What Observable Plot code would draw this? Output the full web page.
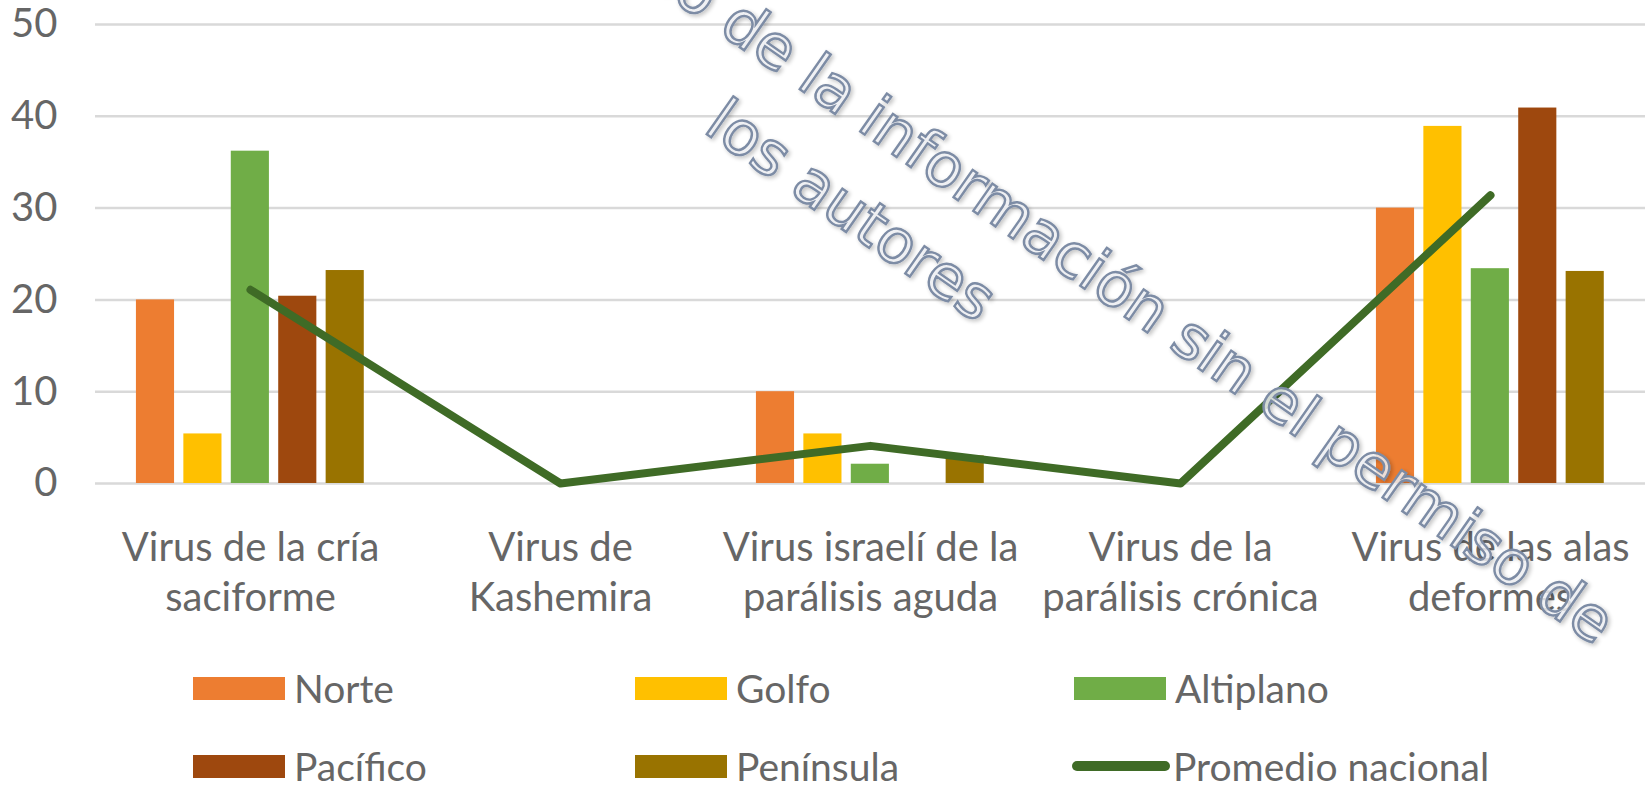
<!DOCTYPE html>
<html>
<head>
<meta charset="utf-8">
<script src="https://cdn.jsdelivr.net/npm/d3@7"></script>
<script src="https://cdn.jsdelivr.net/npm/@observablehq/plot@0.6"></script>
<style>
  html, body { margin: 0; padding: 0; background: #ffffff; }
  #wrap { position: relative; width: 1651px; height: 785px; overflow: hidden; font-family: Lato, "Liberation Sans Narrow", Roboto, sans-serif; }
  #legend { position: absolute; left: 0; top: 0; width: 1651px; height: 785px; pointer-events: none; }
  .item { position: absolute; display: flex; align-items: center; height: 34px; font-size: 39px; line-height: 34px; color: #666666; white-space: nowrap; }
  .sw { display: inline-block; width: 92px; height: 23px; margin-right: 9px; }
  .ln { display: inline-block; width: 98px; height: 10px; border-radius: 5px; margin-right: 3px; }
  #wm { position: absolute; left: 0; top: 0; pointer-events: none; }
</style>
</head>
<body>
<div id="wrap"></div>
<script>
// ---- data ----
const categories = [
  "Virus de la cría saciforme",
  "Virus de Kashemira",
  "Virus israelí de la parálisis aguda",
  "Virus de la parálisis crónica",
  "Virus de las alas deformes"
];
const categoryLabels = [
  "Virus de la cría\nsaciforme",
  "Virus de\nKashemira",
  "Virus israelí de la\nparálisis aguda",
  "Virus de la\nparálisis crónica",
  "Virus de las alas\ndeformes"
];
const series = ["Norte", "Golfo", "Altiplano", "Pacífico", "Península"];
const norte     = [20.0, 0, 10.0, 0, 30.0];
const golfo     = [5.4,  0, 5.4,  0, 38.9];
const altiplano = [36.2, 0, 2.1,  0, 23.4];
const pacifico  = [20.4, 0, 0,    0, 40.9];
const peninsula = [23.2, 0, 3.0,  0, 23.1];
const promedioNacional = [21.1, 0, 4.1, 0, 31.4];
const lineName = "Promedio nacional";
const yTicks = [0, 10, 20, 30, 40, 50];

// ---- styles ----
const seriesColors = ["#ED7D31", "#FFC000", "#70AD47", "#9E480E", "#997300"];
const lineColor = "#3F6B26";
const textColor = "#666666";
const font = "Lato, 'Liberation Sans Narrow', Roboto, sans-serif";

// ---- table built from arrays ----
const seriesValues = [norte, golfo, altiplano, pacifico, peninsula];
const rows = series.flatMap((s, si) => seriesValues[si].map((v, ci) => ({series: s, si, ci, value: v})))
  .filter(d => d.value > 0);
const lineRows = promedioNacional.map((v, ci) => ({ci, value: v}));

// layout inside each category band (in band units)
const GROUP_START = 0.132, STEP = 0.153, BAR_W = 0.123;

const chart = Plot.plot({
  width: 1651,
  height: 640,
  marginTop: 24,
  marginBottom: 157,
  marginLeft: 95,
  marginRight: 6,
  style: {fontFamily: font, color: textColor, background: "transparent"},
  x: {type: "linear", domain: [0, categories.length], axis: null},
  y: {domain: [0, 50], axis: null},
  color: {domain: series, range: seriesColors},
  marks: [
    Plot.gridY(yTicks, {stroke: "#D9D9D9", strokeOpacity: 1, strokeWidth: 2.5}),
    Plot.axisY(yTicks, {tickSize: 0, tickPadding: 38, fontSize: 40, fill: textColor, label: null}),
    Plot.rectY(rows, {
      x1: d => d.ci + GROUP_START + d.si * STEP,
      x2: d => d.ci + GROUP_START + d.si * STEP + BAR_W,
      y1: 0,
      y2: "value",
      fill: "series"
    }),
    Plot.line(lineRows, {
      x: d => d.ci + 0.5,
      y: "value",
      stroke: lineColor,
      strokeWidth: 8,
      strokeLinecap: "round",
      strokeLinejoin: "round"
    }),
    Plot.text(categoryLabels, {
      x: (d, i) => i + 0.5,
      y: 0,
      dy: 41,
      text: d => d,
      lineAnchor: "top",
      lineHeight: 1.27,
      fontSize: 40,
      fill: textColor
    })
  ]
});

const wrap = document.getElementById("wrap");
chart.style.position = "absolute";
chart.style.left = "0px";
chart.style.top = "0px";
wrap.appendChild(chart);

// ---- legend ----
const legend = document.createElement("div");
legend.id = "legend";
const legendItems = [
  ...series.map((s, i) => ({name: s, color: seriesColors[i], kind: "bar"})),
  {name: lineName, color: lineColor, kind: "line"}
];
const colLeft = [193, 635, 1074];
const rowTop = [671, 749];
legendItems.forEach((it, i) => {
  const col = i % 3, row = Math.floor(i / 3);
  const div = document.createElement("div");
  div.className = "item";
  div.style.left = (colLeft[col] - (it.kind === "line" ? 2 : 0)) + "px";
  div.style.top = rowTop[row] + "px";
  const sw = document.createElement("span");
  sw.className = it.kind === "line" ? "ln" : "sw";
  sw.style.background = it.color;
  const tx = document.createElement("span");
  tx.textContent = it.name;
  div.appendChild(sw);
  div.appendChild(tx);
  legend.appendChild(div);
});
wrap.appendChild(legend);

// ---- watermark ----
const wmLine1a = "Prohibido el uso de";
const wmLine1b = "la información sin el permiso de";
const wmLine2 = "los autores";
const NS = "http://www.w3.org/2000/svg";
const wm = document.createElementNS(NS, "svg");
wm.setAttribute("id", "wm");
wm.setAttribute("width", 1651);
wm.setAttribute("height", 785);
wm.innerHTML = `
<defs>
  <filter id="sh" x="-10%" y="-10%" width="120%" height="120%">
    <feGaussianBlur in="SourceAlpha" stdDeviation="2"/>
    <feOffset dx="1.5" dy="2" result="b"/>
    <feComponentTransfer><feFuncA type="linear" slope="0.25"/></feComponentTransfer>
    <feMerge><feMergeNode/><feMergeNode in="SourceGraphic"/></feMerge>
  </filter>
</defs>
<g font-family="'DejaVu Sans', Verdana, sans-serif" font-size="61" fill="rgba(240,241,245,0.82)" stroke="#7D8CA5" stroke-width="2.4" filter="url(#sh)">
  <g transform="translate(795,86) rotate(35)">
    <text x="-19" text-anchor="end"></text>
    <text x="0" text-anchor="start"></text>
  </g>
  <g transform="translate(702,131) rotate(35)">
    <text x="0" text-anchor="start"></text>
  </g>
</g>`;
const texts = wm.querySelectorAll("text");
texts[0].textContent = wmLine1a;
texts[1].textContent = wmLine1b;
texts[2].textContent = wmLine2;
wrap.appendChild(wm);
</script>
</body>
</html>
